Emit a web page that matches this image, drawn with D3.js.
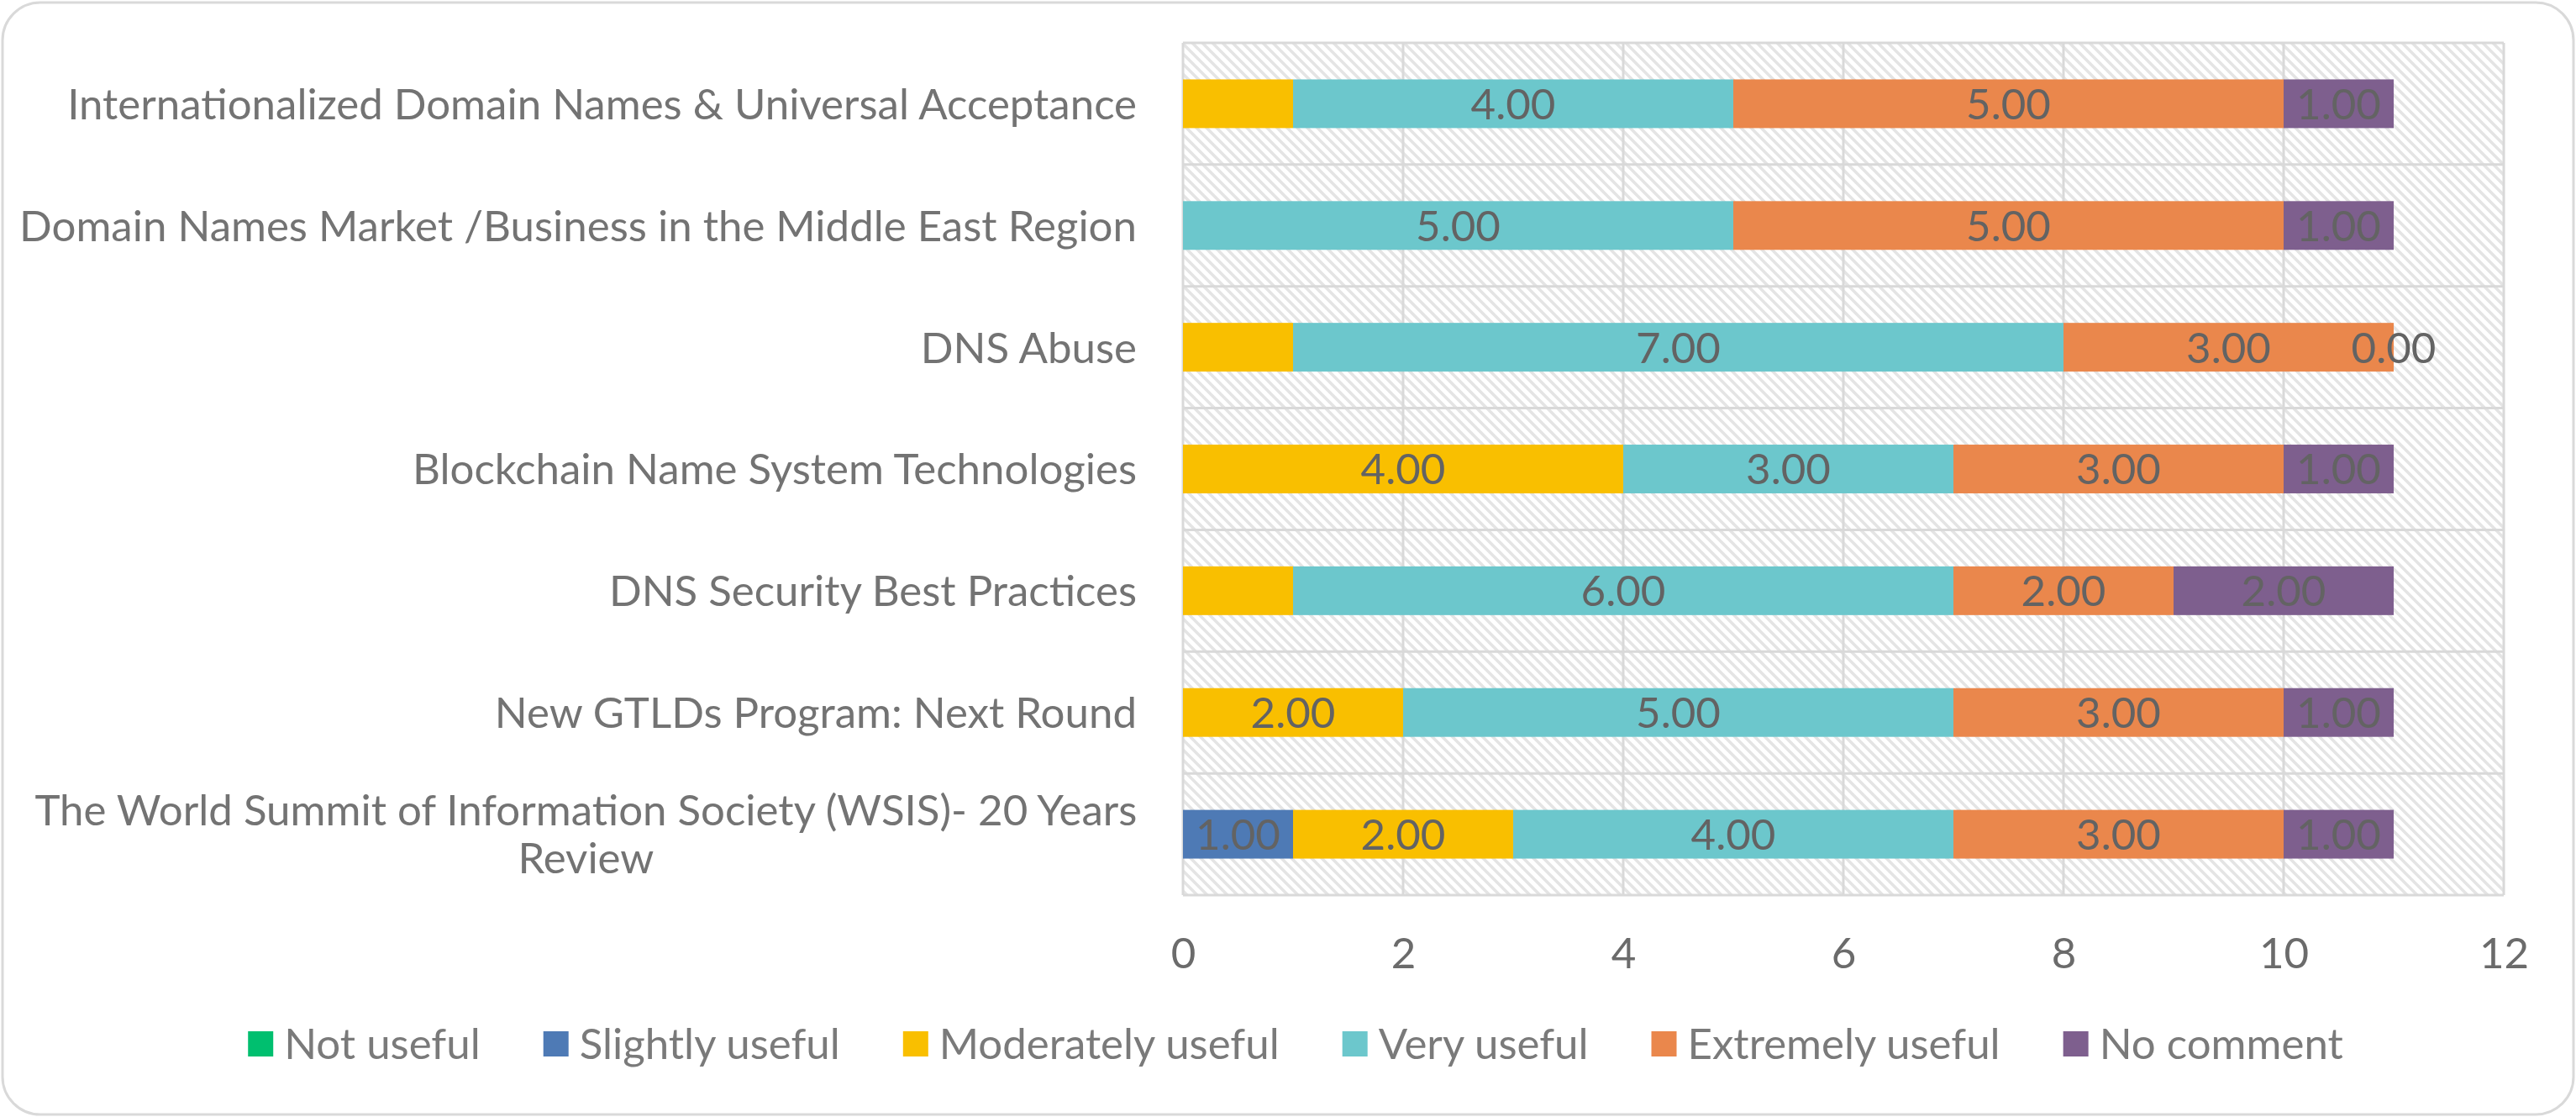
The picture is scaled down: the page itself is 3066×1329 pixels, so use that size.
<!DOCTYPE html>
<html>
<head>
<meta charset="utf-8">
<script src="https://cdn.jsdelivr.net/npm/d3@7/dist/d3.min.js"></script>
<style>
  html, body { margin: 0; padding: 0; background: #ffffff; }
  svg { display: block; }
  text { font-family: Lato, "Open Sans", sans-serif; }
</style>
</head>
<body>
<svg id="chart" width="3066" height="1329"></svg>
<script>
// ---- data ----
const categories = [
  "Internationalized Domain Names & Universal Acceptance",
  "Domain Names Market /Business in the Middle East Region",
  "DNS Abuse",
  "Blockchain Name System Technologies",
  "DNS Security Best Practices",
  "New GTLDs Program: Next Round",
  "The World Summit of Information Society (WSIS)- 20 Years\nReview"
];
const seriesNames = ["Not useful", "Slightly useful", "Moderately useful", "Very useful", "Extremely useful", "No comment"];
const notUseful       = [null, null, null, null, null, null, null];
const slightlyUseful  = [null, null, null, null, null, null, 1];
const moderatelyUseful= [1, null, 1, 4, 1, 2, 2];
const veryUseful      = [4, 5, 7, 3, 6, 5, 4];
const extremelyUseful = [5, 5, 3, 3, 2, 3, 3];
const noComment       = [1, 1, 0, 1, 2, 1, 1];
// labels that are not shown in the reference: [seriesIndex, categoryIndex]
const hiddenLabels = [[2, 0], [2, 2], [2, 4]];
const tickValues = [0, 2, 4, 6, 8, 10, 12];
const colors = ["#00BF6F", "#4E7AB5", "#F9BF00", "#6CC7CC", "#EA874C", "#7E5F8E"];

const seriesValues = [notUseful, slightlyUseful, moderatelyUseful, veryUseful, extremelyUseful, noComment];

// ---- layout ----
const W = 3066, H = 1329;
const plot = { left: 1408, right: 2980, top: 51, bottom: 1065 };
const FS = 51;

const svg = d3.select("#chart");

// outer border
svg.append("rect")
  .attr("x", 3).attr("y", 3).attr("width", W - 6).attr("height", H - 6)
  .attr("rx", 45).attr("ry", 45)
  .attr("fill", "#ffffff").attr("stroke", "#d9d9d9").attr("stroke-width", 3);

// hatch pattern
const defs = svg.append("defs");
const pat = defs.append("pattern").attr("id", "hatch")
  .attr("width", 12).attr("height", 12).attr("patternUnits", "userSpaceOnUse");
pat.append("rect").attr("width", 12).attr("height", 12).attr("fill", "#ffffff");
pat.append("path").attr("d", "M-3,-3 L15,15 M-3,9 L3,15 M9,-3 L15,3")
  .attr("stroke", "#e4e4e4").attr("stroke-width", 3.5);

const x = d3.scaleLinear().domain([0, 12]).range([plot.left, plot.right]);
const y = d3.scaleBand().domain(d3.range(categories.length))
  .range([plot.top, plot.bottom]).paddingInner(0.6).paddingOuter(0.3);
const yRow = d3.scaleBand().domain(d3.range(categories.length))
  .range([plot.top, plot.bottom]).padding(0);

// plot area background
svg.append("rect")
  .attr("x", plot.left).attr("y", plot.top)
  .attr("width", plot.right - plot.left).attr("height", plot.bottom - plot.top)
  .attr("fill", "url(#hatch)");

// gridlines
const grid = svg.append("g").attr("stroke", "#d9d9d9").attr("stroke-width", 3);
grid.selectAll("line.v").data(tickValues).join("line")
  .attr("x1", d => x(d)).attr("x2", d => x(d))
  .attr("y1", plot.top).attr("y2", plot.bottom);
const hLines = d3.range(categories.length).map(i => yRow(i)).concat([plot.bottom]);
grid.selectAll("line.h").data(hLines).join("line")
  .attr("x1", plot.left).attr("x2", plot.right)
  .attr("y1", d => d).attr("y2", d => d);

// stack
const rows = categories.map((c, i) => {
  const o = { idx: i };
  seriesNames.forEach((s, k) => { o[s] = seriesValues[k][i] == null ? 0 : seriesValues[k][i]; });
  return o;
});
const stacked = d3.stack().keys(seriesNames)(rows);

const hiddenSet = new Set(hiddenLabels.map(d => d[0] + "-" + d[1]));

stacked.forEach((layer, k) => {
  const g = svg.append("g");
  const segs = layer.map((d, i) => ({ x0: d[0], x1: d[1], i, v: seriesValues[k][i] }))
    .filter(d => d.v != null);
  g.selectAll("rect").data(segs.filter(d => d.v > 0)).join("rect")
    .attr("x", d => x(d.x0)).attr("width", d => x(d.x1) - x(d.x0))
    .attr("y", d => y(d.i)).attr("height", y.bandwidth())
    .attr("fill", colors[k]);
  g.selectAll("text").data(segs.filter(d => !hiddenSet.has(k + "-" + d.i))).join("text")
    .attr("x", d => (x(d.x0) + x(d.x1)) / 2)
    .attr("y", d => y(d.i) + y.bandwidth() / 2)
    .attr("dy", "0.36em")
    .attr("text-anchor", "middle")
    .attr("font-size", FS)
    .attr("fill", "#636363")
    .text(d => d3.format(".2f")(d.v));
});

// x axis tick labels
const xAxis = d3.axisBottom(x).tickValues(tickValues).tickSize(0).tickPadding(0).tickFormat(d3.format("d"));
const gx = svg.append("g").attr("transform", `translate(0,${plot.bottom + 52})`).call(xAxis);
gx.select(".domain").remove();
gx.selectAll("text").attr("font-size", FS).attr("fill", "#6b6b6b")
  .attr("font-family", "Lato, 'Open Sans', sans-serif").attr("dy", "0.36em").attr("y", 17);

// category labels
const labelRight = 1353;
const lineH = 57;
const catG = svg.append("g");
categories.forEach((c, i) => {
  const lines = c.split("\n");
  const cy = y(i) + y.bandwidth() / 2;
  const t = catG.append("text").attr("font-size", FS).attr("fill", "#737373");
  const spans = lines.map((ln, j) => t.append("tspan").text(ln));
  const widths = spans.map(s => s.node().getComputedTextLength());
  const maxW = d3.max(widths);
  const cxBlock = labelRight - maxW / 2;
  spans.forEach((s, j) => {
    s.attr("x", cxBlock).attr("text-anchor", "middle")
     .attr("y", cy + (j - (lines.length - 1) / 2) * lineH).attr("dy", "0.36em");
  });
});

// legend
const legY = 1242;
const sq = 30, gapIn = 13, gapOut = 75;
const leg = svg.append("g");
const items = seriesNames.map((s, k) => {
  const g = leg.append("g");
  g.append("rect").attr("width", sq).attr("height", sq).attr("y", -sq / 2).attr("fill", colors[k]);
  const t = g.append("text").attr("x", sq + gapIn).attr("dy", "0.36em")
    .attr("font-size", FS).attr("fill", "#7a7a7a").text(s);
  return { g, w: sq + gapIn + t.node().getComputedTextLength() };
});
const totalW = d3.sum(items, d => d.w) + gapOut * (items.length - 1);
let cx = 1542 - totalW / 2;
items.forEach(it => { it.g.attr("transform", `translate(${cx},${legY})`); cx += it.w + gapOut; });
</script>
</body>
</html>
